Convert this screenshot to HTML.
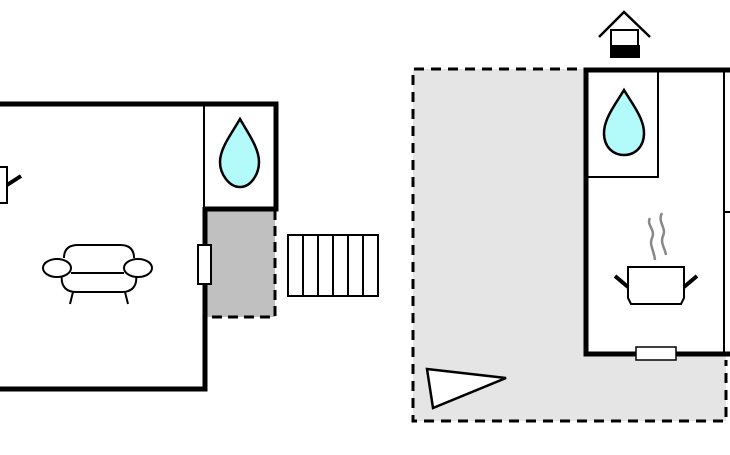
<!DOCTYPE html>
<html><head><style>body{margin:0;background:#fff}</style></head><body>
<svg width="730" height="450" viewBox="0 0 730 450" xmlns="http://www.w3.org/2000/svg">
<rect width="730" height="450" fill="#fff"/>
<!-- left building -->
<rect x="207" y="210" width="68" height="107" fill="#c0c0c0"/>
<path d="M275 210 V317 H207" fill="none" stroke="#000" stroke-width="3" stroke-dasharray="10,6"/>
<path d="M-5 104 H276 V209 H205" fill="none" stroke="#000" stroke-width="5"/>
<path d="M204 104 V209" stroke="#000" stroke-width="2"/>
<path d="M205 207 V389 H-5" fill="none" stroke="#000" stroke-width="5"/>
<rect x="198" y="245" width="13" height="39" fill="#fff" stroke="#000" stroke-width="2"/>
<path d="M240 119 C232 133 220 148 220 162 C220 174 229 187 240 187 C251 187 259 174 259 162 C259 148 248 133 240 119 Z" fill="#b3fbfb" stroke="#000" stroke-width="2.5"/>
<!-- toilet -->
<path d="M-2 167 H7 V203 H-2" fill="#fff" stroke="#000" stroke-width="2"/>
<path d="M7 185 L21 176" stroke="#000" stroke-width="4"/>
<!-- sofa -->
<g fill="#fff" stroke="#000" stroke-width="2">
<path d="M62 274 C60 288 68 292 76 292 H122 C130 292 138 288 136 274"/>
<path d="M64 258 C64 248 70 245 78 245 H120 C128 245 134 248 134 258"/>
<ellipse cx="57" cy="268" rx="14" ry="9"/>
<ellipse cx="138" cy="268" rx="14" ry="9"/>
<path d="M71 273 H124"/>
<path d="M73 292 L70 304 M125 292 L128 304"/>
</g>
<!-- stairs -->
<g fill="none" stroke="#000" stroke-width="2">
<rect x="288" y="235" width="90" height="61"/>
<path d="M303 235V296M318 235V296M333 235V296M348 235V296M363 235V296"/>
</g>
<!-- right region -->
<rect x="413" y="69" width="313" height="352" fill="#e5e5e5"/>
<path d="M577 69 H413 V421 H726 V360" fill="none" stroke="#000" stroke-width="3" stroke-dasharray="10,7"/>
<rect x="586" y="70" width="150" height="284" fill="#fff" stroke="#000" stroke-width="5"/>
<path d="M724 72 V352" stroke="#000" stroke-width="2"/>
<path d="M724 212 H730" stroke="#000" stroke-width="2"/>
<path d="M588 177 H658 V72" fill="none" stroke="#000" stroke-width="2"/>
<path d="M624 90 C617 102 604 118 604 133 C604 147 613 155 624 155 C635 155 644 147 644 133 C644 118 631 102 624 90 Z" fill="#b3fbfb" stroke="#000" stroke-width="2.5"/>
<rect x="636" y="347" width="40" height="13" fill="#fff" stroke="#000" stroke-width="1.5"/>
<!-- pot -->
<path d="M628 267 H684 V298 L681 304 H631 L628 298 Z" fill="#fff" stroke="#000" stroke-width="2"/>
<path d="M615 276 L628 287 M697 276 L684 287" stroke="#000" stroke-width="4"/>
<path d="M650 218 C646 225 656 230 652 238 C649 245 654 250 655 260 M662 213 C657 222 667 228 663 236 C660 243 665 248 666 255" fill="none" stroke="#888" stroke-width="2.5"/>
<!-- triangle -->
<path d="M427 369 L506 378 L433 408 Z" fill="#fff" stroke="#000" stroke-width="2.5"/>
<!-- chimney -->
<path d="M599 37 L624 12 L650 37" fill="none" stroke="#000" stroke-width="2.5"/>
<rect x="611" y="30" width="27" height="16" fill="#fff" stroke="#000" stroke-width="2"/>
<rect x="610" y="45" width="30" height="13" fill="#000"/>
</svg>
</body></html>
